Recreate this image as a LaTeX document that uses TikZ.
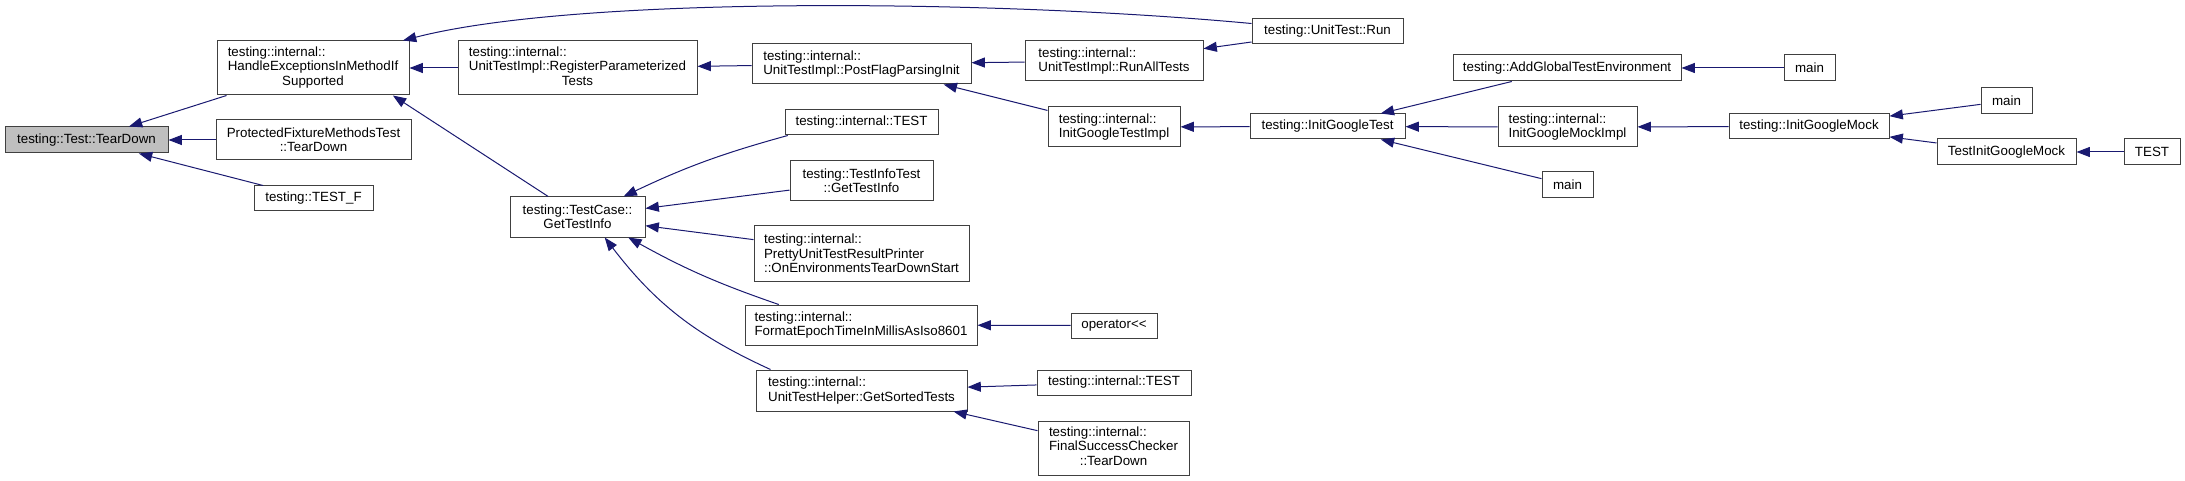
\documentclass[tikz,border=0pt]{standalone}
\usepackage{fontspec}
\setmainfont{Liberation Sans}
\usepackage{tikz}
\usetikzlibrary{arrows.meta}
\definecolor{edgeblue}{HTML}{191970}
\definecolor{rootgray}{HTML}{BFBFBF}
\definecolor{boxline}{HTML}{404040}
\newcommand{\fnfont}{\fontsize{10}{10.7}\selectfont}
\newcommand{\leftcenter}[3]{\begin{tabular}{@{}l@{}}#1\\#2\\\multicolumn{1}{@{}c@{}}{#3}\end{tabular}}

\begin{document}
\begin{tikzpicture}[x=0.75pt, y=-0.75pt, wd/.style={minimum width=#1*0.75pt}, ht/.style={minimum height=#1*0.75pt}]
\tikzstyle{fn} = [rectangle, draw=boxline, line width=0.75pt, inner sep=2pt, font=\fnfont]
\tikzstyle{call} = [draw=edgeblue, line width=0.75pt, -{Triangle[length=10pt, width=7.5pt]}]

\useasboundingbox (0,0) rectangle (2185,481);

\node (teardown) [fn, fill=rootgray, wd=163, ht=26] at (86.5,140) {testing::Test::TearDown};

\node (handle) [fn, wd=192, ht=54] at (313,68) {\leftcenter{testing::internal::}{HandleExceptionsInMethodIf}{Supported}};
\node (protected) [fn, wd=195, ht=40, align=center] at (313.5,140) {ProtectedFixtureMethodsTest\\::TearDown};
\node (testf) [fn, wd=119, ht=25] at (313.5,198.5) {testing::TEST\_F};

\node (register) [fn, wd=239, ht=54] at (577.5,68) {\leftcenter{testing::internal::}{UnitTestImpl::RegisterParameterized}{Tests}};
\node (gettestinfo) [fn, wd=135, ht=40, align=center] at (577.5,217) {testing::TestCase::\\GetTestInfo};

\node (postflag) [fn, wd=219, ht=40, align=left] at (861.5,64) {testing::internal::\\UnitTestImpl::PostFlagParsingInit};
\node (itestA) [fn, wd=153, ht=25] at (861.5,122.5) {testing::internal::TEST};
\node (infotest) [fn, wd=143, ht=40, align=center] at (861.5,181) {testing::TestInfoTest\\::GetTestInfo};
\node (printer) [fn, wd=215, ht=55, align=left] at (861.5,253.5) {testing::internal::\\PrettyUnitTestResultPrinter\\::OnEnvironmentsTearDownStart};
\node (epoch) [fn, wd=232, ht=40, align=left] at (861,325) {testing::internal::\\FormatEpochTimeInMillisAsIso8601};
\node (sorted) [fn, wd=211, ht=41, align=left] at (861.5,390.5) {testing::internal::\\UnitTestHelper::GetSortedTests};

\node (runall) [fn, wd=178, ht=40, align=left] at (1114,61) {testing::internal::\\UnitTestImpl::RunAllTests};
\node (igtimpl) [fn, wd=132, ht=40, align=left] at (1114,127) {testing::internal::\\InitGoogleTestImpl};
\node (opshift) [fn, wd=86, ht=25] at (1114,325.5) {operator<\kern0pt<};
\node (itestB) [fn, wd=154, ht=25] at (1114,382.5) {testing::internal::TEST};
\node (checker) [fn, wd=151, ht=54] at (1113.5,448) {\leftcenter{testing::internal::}{FinalSuccessChecker}{::TearDown}};

\node (run) [fn, wd=151, ht=25] at (1327.5,31.5) {testing::UnitTest::Run};
\node (igt) [fn, wd=155, ht=25] at (1327.5,126.5) {testing::InitGoogleTest};

\node (addenv) [fn, wd=228, ht=26] at (1567,68) {testing::AddGlobalTestEnvironment};
\node (igmimpl) [fn, wd=139, ht=40, align=left] at (1567.5,127) {testing::internal::\\InitGoogleMockImpl};
\node (mainA) [fn, wd=51, ht=26] at (1567.5,185) {main};

\node (mainB) [fn, wd=51, ht=26] at (1809.5,68) {main};
\node (igm) [fn, wd=160, ht=25] at (1809,126.5) {testing::InitGoogleMock};

\node (mainC) [fn, wd=51, ht=26] at (2006.5,101) {main};
\node (tigm) [fn, wd=139, ht=26] at (2006.5,152) {TestInitGoogleMock};
\node (testC) [fn, wd=56, ht=26] at (2152,152) {TEST};

% Draw calls
\foreach \caller/\callee in {handle/teardown, protected/teardown, testf/teardown, register/handle, postflag/register, runall/postflag, igtimpl/postflag, run/runall, igt/igtimpl, addenv/igt, igmimpl/igt, mainA/igt, mainB/addenv, igm/igmimpl, mainC/igm, tigm/igm, testC/tigm, infotest/gettestinfo, printer/gettestinfo, opshift/epoch, itestB/sorted, checker/sorted} {
    \draw[call] (\caller) -- (\callee);
}
\draw[call] (run.174) .. controls (1000,0) and (580,-5) .. (handle.17);
\draw[call] (gettestinfo.145) -- (handle.-19);
\draw[call] (itestA.190) to[bend right=5] (gettestinfo.24);
\draw[call] (epoch.166) to[bend left=5] (gettestinfo.-22);
\draw[call] (sorted.167) to[bend left=14] (gettestinfo.-37);

\end{tikzpicture}
\end{document}
